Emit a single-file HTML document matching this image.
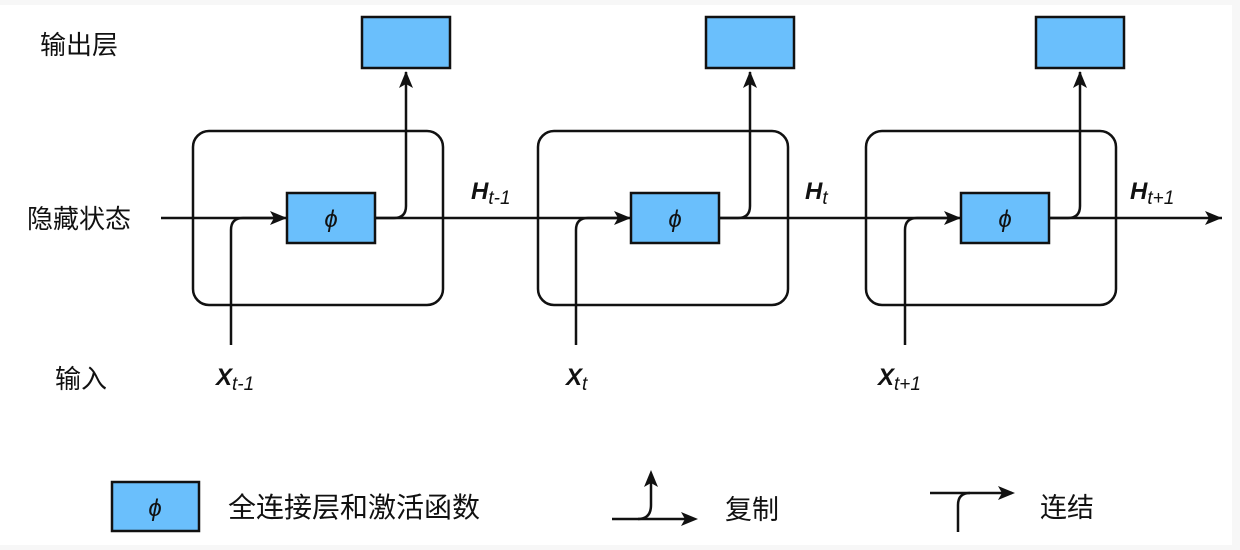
<!DOCTYPE html>
<html><head><meta charset="utf-8"><style>
html,body{margin:0;padding:0;background:#fff;}
svg{display:block;}
.cn{font-family:"Liberation Sans","Noto Sans CJK SC",sans-serif;font-size:26px;fill:#111;}
.v{font-family:"Liberation Sans",sans-serif;font-style:italic;fill:#111;}
</style></head><body>
<svg width="1240" height="550" viewBox="0 0 1240 550" xmlns="http://www.w3.org/2000/svg">
<rect x="0" y="0" width="1240" height="5" fill="#f7f7f7"/>
<rect x="0" y="545" width="1240" height="5" fill="#f7f7f7"/>
<rect x="1232" y="0" width="8" height="550" fill="#f7f7f7"/>
<g fill="none" stroke="#111" stroke-width="2.5">
<line x1="161" y1="218" x2="1222" y2="218"/>
<path d="M1205,211 L1222,218 L1205,225 L1209,218 Z" fill="#111" stroke="none"/>
<rect x="193" y="131" width="250" height="174" rx="16"/>
<rect x="538" y="131" width="250" height="174" rx="16"/>
<rect x="866" y="131" width="250" height="174" rx="16"/>
</g>
<g stroke="#111" stroke-width="2.5" fill="none">
<path d="M231,345 L231,230 Q231,218 243,218 L284,218"/>
<path d="M270,211 L287,218 L270,225 L274,218 Z" fill="#111" stroke="none"/>
<path d="M375,218 L394,218 Q406,218 406,206 L406,72"/>
<path d="M399,88 L406,71 L413,88 L406,84 Z" fill="#111" stroke="none"/>
<path d="M576,345 L576,230 Q576,218 588,218 L628,218"/>
<path d="M614,211 L631,218 L614,225 L618,218 Z" fill="#111" stroke="none"/>
<path d="M719,218 L738,218 Q750,218 750,206 L750,72"/>
<path d="M743,88 L750,71 L757,88 L750,84 Z" fill="#111" stroke="none"/>
<path d="M905,345 L905,230 Q905,218 917,218 L958,218"/>
<path d="M944,211 L961,218 L944,225 L948,218 Z" fill="#111" stroke="none"/>
<path d="M1049,218 L1068,218 Q1080,218 1080,206 L1080,72"/>
<path d="M1073,88 L1080,71 L1087,88 L1080,84 Z" fill="#111" stroke="none"/>
</g>
<g fill="#6abffc" stroke="#111" stroke-width="2.5">
<rect x="287" y="193" width="88" height="50"/>
<rect x="631" y="193" width="88" height="50"/>
<rect x="961" y="193" width="88" height="50"/>
<rect x="362" y="17" width="88" height="51"/>
<rect x="706" y="17" width="88" height="51"/>
<rect x="1036" y="17" width="88" height="51"/>
<rect x="112" y="482" width="87" height="49"/>
</g>
<g class="v" font-size="24" text-anchor="middle">
<text x="331" y="227">ϕ</text>
<text x="675" y="227">ϕ</text>
<text x="1005" y="227">ϕ</text>
<text x="155" y="516">ϕ</text>
</g>
<text class="cn" x="40" y="54">输出层</text>
<text class="cn" x="27" y="228">隐藏状态</text>
<text class="cn" x="55" y="388">输入</text>
<g class="v" font-weight="bold" font-size="24">
<text x="216" y="385">X<tspan font-size="19" font-weight="normal" dy="5">t-1</tspan></text>
<text x="566" y="385">X<tspan font-size="19" font-weight="normal" dy="5">t</tspan></text>
<text x="878" y="385">X<tspan font-size="19" font-weight="normal" dy="5">t+1</tspan></text>
<text x="471" y="199">H<tspan font-size="19" font-weight="normal" dy="5">t-1</tspan></text>
<text x="805" y="199">H<tspan font-size="19" font-weight="normal" dy="5">t</tspan></text>
<text x="1130" y="199">H<tspan font-size="19" font-weight="normal" dy="5">t+1</tspan></text>
</g>
<text class="cn" x="228" y="517" style="font-size:28px">全连接层和激活函数</text>
<g stroke="#111" stroke-width="2.5" fill="none">
<path d="M612,519 L694,519"/>
<path d="M638,519 Q651,519 651,505 L651,474"/>
<line x1="930" y1="493" x2="1012" y2="493"/>
<path d="M958,532 L958,505 Q958,493 970,493"/>
</g>
<path d="M681,512 L698,519 L681,526 L685,519 Z" fill="#111"/>
<path d="M644,487 L651,470 L658,487 L651,483 Z" fill="#111"/>
<path d="M998,486 L1015,493 L998,500 L1002,493 Z" fill="#111"/>
<text class="cn" x="725" y="519" style="font-size:27px">复制</text>
<text class="cn" x="1040" y="517" style="font-size:27px">连结</text>
</svg>
</body></html>
